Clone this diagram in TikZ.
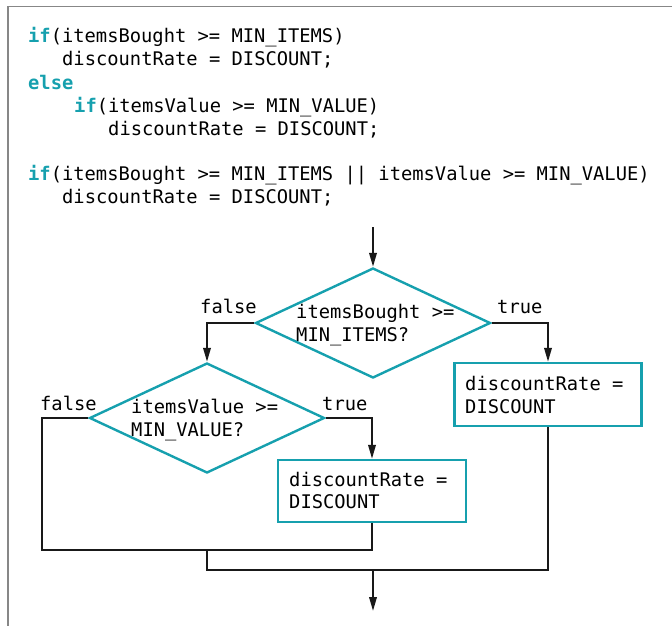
\documentclass[tikz,border=0pt]{standalone}
\usepackage{fontspec}
\usetikzlibrary{shapes.geometric,arrows.meta}
\newfontfamily\codefont{DejaVu Sans Mono}
\definecolor{tealc}{RGB}{22,160,174}
\definecolor{framec}{RGB}{135,135,135}
\tikzset{
  codeline/.style={anchor=base west,inner sep=0pt,font=\codefont\fontsize{18.77}{22}\selectfont},
  dec/.style={draw=tealc,line width=2.4pt,diamond,minimum width=235pt,minimum height=110pt,inner sep=0pt},
  procbox/.style={draw=tealc,line width=2.4pt,rectangle,inner sep=0pt},
  flow/.style={line width=2pt,black!90},
  arr/.style={flow,-{Triangle[length=14pt,width=7.5pt]}},
}
\newcommand{\kw}[1]{\textcolor{tealc}{\bfseries #1}}
\begin{document}
\begin{tikzpicture}[x=1pt,y=-1pt]
\useasboundingbox (0,0) rectangle (672,626);
\draw[framec,line width=1.8pt] (8,626) -- (8,6.5) -- (672,6.5);
% code
\node[codeline] (c1) at (28,43) {\kw{if}(itemsBought >= MIN\_ITEMS)};
\node[codeline] (c2) at (62,66) {discountRate = DISCOUNT;};
\node[codeline] (c3) at (28,89) {\kw{else}};
\node[codeline] (c4) at (74,112) {\kw{if}(itemsValue >= MIN\_VALUE)};
\node[codeline] (c5) at (108,135) {discountRate = DISCOUNT;};
\node[codeline] (c6) at (28,180) {\kw{if}(itemsBought >= MIN\_ITEMS || itemsValue >= MIN\_VALUE)};
\node[codeline] (c7) at (62,203) {discountRate = DISCOUNT;};
% flowchart
\node[dec] (d1) at (373,323) {};
\node[dec] (d2) at (207,418) {};
\node[procbox,minimum width=187pt,minimum height=63pt] (b1) at (548,394.5) {};
\node[procbox,minimum width=188pt,minimum height=62pt] (b2) at (372,491) {};
\node[codeline] (t1a) at (296,318) {itemsBought >=};
\node[codeline] (t1b) at (296,341) {MIN\_ITEMS?};
\node[codeline] (t2a) at (131,413) {itemsValue >=};
\node[codeline] (t2b) at (131,436) {MIN\_VALUE?};
\node[codeline] (t3a) at (465,390) {discountRate =};
\node[codeline] (t3b) at (465,413) {DISCOUNT};
\node[codeline] (t4a) at (289,486) {discountRate =};
\node[codeline] (t4b) at (289,508) {DISCOUNT};
\node[codeline] (f1) at (200,313) {false};
\node[codeline] (r1) at (497,313) {true};
\node[codeline] (f2) at (40,410) {false};
\node[codeline] (r2) at (322,410) {true};
\coordinate (start) at (373,227);
\coordinate (jl) at (42,550);
\coordinate (j1) at (207,550);
\coordinate (m) at (373,570);
\coordinate (end) at (373,611);
\draw[arr] (start) -- (d1.north);
\draw[arr] (d1.west) -| (d2.north);
\draw[arr] (d1.east) -| (b1.north);
\draw[arr] (d2.east) -| (b2.north);
\draw[flow] (d2.west) -| (jl) -| (b2.south);
\draw[flow] (j1) |- (m);
\draw[flow] (b1.south) |- (m);
\draw[arr] (m) -- (end);
\end{tikzpicture}
\end{document}
